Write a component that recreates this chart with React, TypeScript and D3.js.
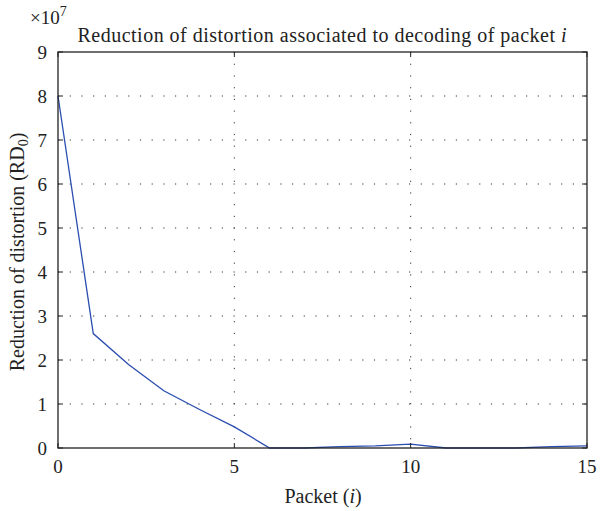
import React, { useEffect, useRef } from 'react';
import * as d3 from 'd3';

const packets = [0, 1, 2, 3, 4, 5, 6, 7, 8, 9, 10, 11, 12, 13, 14, 15];
// values in units of 1e7
const distortion = [8.0, 2.6, 1.9, 1.3, 0.88, 0.48, 0, 0, 0.03, 0.05, 0.09, 0, 0, 0, 0.03, 0.05];
const xTicks = [0, 5, 10, 15];
const yTicks = [0, 1, 2, 3, 4, 5, 6, 7, 8, 9];

const App = () => {
  const ref = useRef<SVGSVGElement>(null);

  useEffect(() => {
    const svg = d3.select(ref.current);
    svg.selectAll('*').remove();

    const margin = { top: 52, right: 13, bottom: 63, left: 58 };
    const width = 600 - margin.left - margin.right;
    const height = 511 - margin.top - margin.bottom;
    const font = '"Liberation Serif", "DejaVu Serif", serif';

    const x = d3.scaleLinear().domain([0, 15]).range([0, width]);
    const y = d3.scaleLinear().domain([0, 9]).range([height, 0]);

    const g = svg.append('g').attr('transform', `translate(${margin.left},${margin.top})`);

    // dotted grid
    g.selectAll('.gy')
      .data(yTicks.filter(d => d > 0 && d < 9))
      .enter().append('line')
      .attr('x1', 0).attr('x2', width)
      .attr('y1', d => y(d)).attr('y2', d => y(d))
      .attr('stroke', '#333').attr('stroke-width', 1)
      .attr('stroke-dasharray', '1.2,10.5');
    g.selectAll('.gx')
      .data(xTicks.filter(d => d > 0 && d < 15))
      .enter().append('line')
      .attr('y1', 0).attr('y2', height)
      .attr('x1', d => x(d)).attr('x2', d => x(d))
      .attr('stroke', '#333').attr('stroke-width', 1)
      .attr('stroke-dasharray', '1.2,10.5');

    // line
    const line = d3.line<number>()
      .x((_, i) => x(packets[i]))
      .y(d => y(d));
    g.append('path')
      .datum(distortion)
      .attr('fill', 'none')
      .attr('stroke', '#2a4db0')
      .attr('stroke-width', 1.3)
      .attr('d', line);

    // box
    g.append('rect')
      .attr('width', width).attr('height', height)
      .attr('fill', 'none').attr('stroke', '#222').attr('stroke-width', 1.3);

    // ticks inward
    const tl = 5;
    yTicks.forEach(t => {
      g.append('line').attr('x1', 0).attr('x2', tl).attr('y1', y(t)).attr('y2', y(t)).attr('stroke', '#222');
      g.append('line').attr('x1', width).attr('x2', width - tl).attr('y1', y(t)).attr('y2', y(t)).attr('stroke', '#222');
      g.append('text').attr('x', -11).attr('y', y(t)).attr('dy', '0.35em')
        .attr('text-anchor', 'end').attr('font-family', font).attr('font-size', 19)
        .attr('fill', '#222').text(t);
    });
    xTicks.forEach(t => {
      g.append('line').attr('y1', height).attr('y2', height - tl).attr('x1', x(t)).attr('x2', x(t)).attr('stroke', '#222');
      g.append('line').attr('y1', 0).attr('y2', tl).attr('x1', x(t)).attr('x2', x(t)).attr('stroke', '#222');
      g.append('text').attr('x', x(t)).attr('y', height + 25)
        .attr('text-anchor', 'middle').attr('font-family', font).attr('font-size', 19)
        .attr('fill', '#222').text(t);
    });

    // exponent
    const ex = svg.append('text').attr('x', 30).attr('y', 24)
      .attr('font-family', font).attr('font-size', 19).attr('fill', '#222');
    ex.append('tspan').text('×10');
    ex.append('tspan').attr('dy', -8).attr('font-size', 14).text('7');

    // title
    const title = svg.append('text').attr('x', 322).attr('y', 42)
      .attr('text-anchor', 'middle').attr('font-family', font).attr('font-size', 20).attr('fill', '#222')
      .attr('textLength', 489).attr('lengthAdjust', 'spacing');
    title.append('tspan').text('Reduction of distortion associated to decoding of packet ');
    title.append('tspan').attr('font-style', 'italic').text('i');

    // x label
    const xl = svg.append('text').attr('x', 323).attr('y', 503)
      .attr('text-anchor', 'middle').attr('font-family', font).attr('font-size', 20).attr('fill', '#222');
    xl.append('tspan').text('Packet (');
    xl.append('tspan').attr('font-style', 'italic').text('i');
    xl.append('tspan').text(')');

    // y label
    const yl = svg.append('text')
      .attr('transform', `translate(24,${margin.top + height / 2 + 2}) rotate(-90)`)
      .attr('text-anchor', 'middle').attr('font-family', font).attr('font-size', 20).attr('fill', '#222');
    yl.append('tspan').text('Reduction of distortion (RD');
    yl.append('tspan').attr('font-size', 14).attr('dy', 4).text('0');
    yl.append('tspan').attr('dy', -4).text(')');
  }, []);

  return (
    <svg ref={ref} width={600} height={511} style={{ position: 'absolute', left: 0, top: 0, background: '#fff' }}></svg>
  );
};

export default App;
